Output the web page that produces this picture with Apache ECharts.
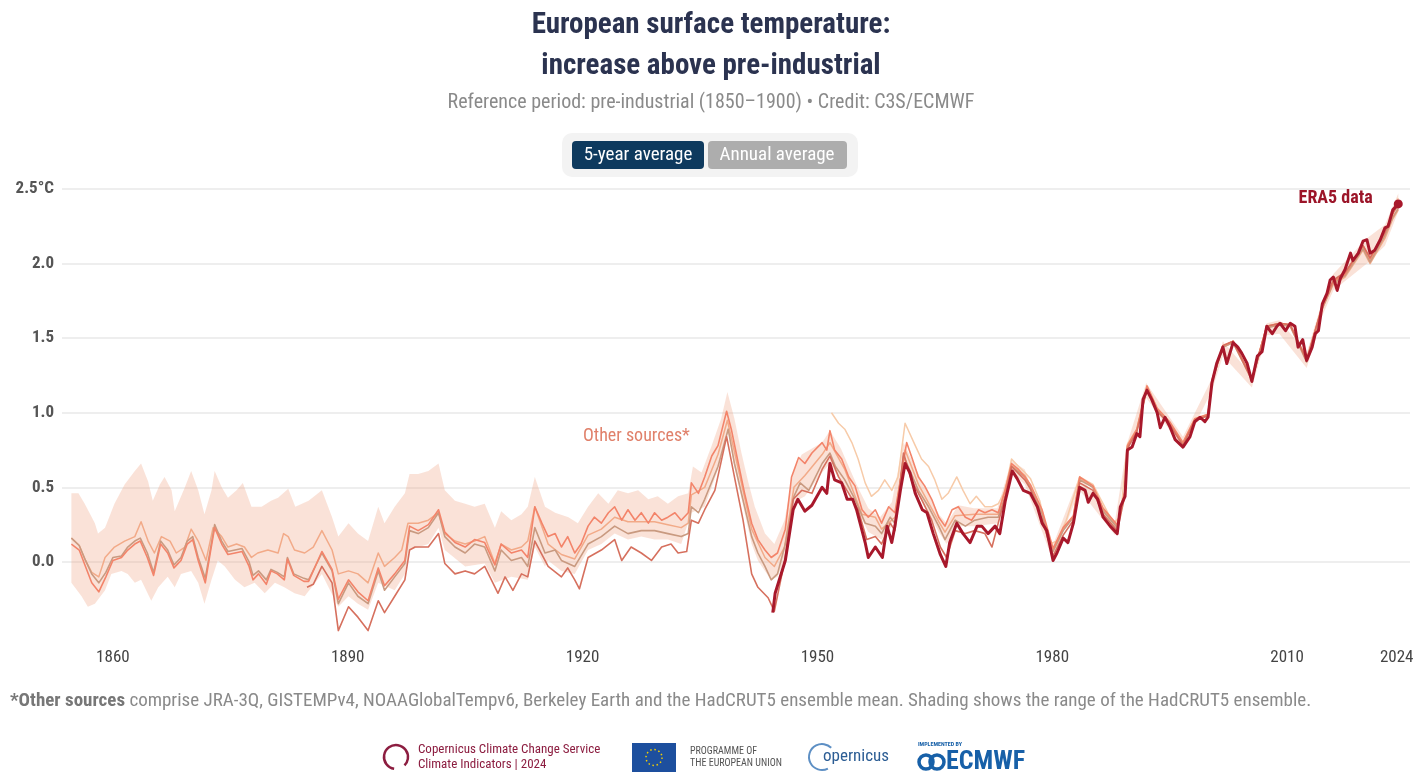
<!DOCTYPE html>
<html><head><meta charset="utf-8">
<script src="https://cdn.jsdelivr.net/npm/echarts@6/dist/echarts.min.js"></script>
<style>html,body{margin:0;padding:0;background:#fff}#c{width:1422px;height:774px}</style>
</head><body><div id="c"></div><script>
// ---------------- DATA ----------------
const xTickYears = [1860, 1890, 1920, 1950, 1980, 2010, 2024];
const yTickValues = [0, 0.5, 1, 1.5, 2, 2.5];

// ERA5 (5-year average, °C above 1850-1900)
const era5Years = [1944.3,1944.6,1945.9,1946.9,1947.5,1948.4,1949.3,1950.6,1951.2,1951.6,1952.2,1953.1,1953.8,1954.5,1955.0,1956.1,1956.5,1957.4,1958.3,1958.9,1959.5,1959.9,1960.6,1961.2,1961.8,1962.5,1963.4,1964.0,1964.8,1965.7,1966.4,1966.9,1967.8,1968.6,1969.5,1970.4,1971.0,1971.8,1972.7,1973.3,1974.0,1974.9,1975.5,1976.3,1977.2,1978.1,1978.7,1979.3,1980.1,1980.6,1981.4,1982.0,1982.7,1983.5,1984.2,1984.6,1985.2,1985.8,1986.5,1987.4,1988.3,1988.7,1989.3,1989.6,1990.2,1990.8,1991.2,1991.6,1992.1,1992.7,1993.4,1993.8,1994.4,1995.0,1995.7,1996.7,1997.6,1998.2,1998.9,1999.5,1999.9,2000.4,2001.0,2001.8,2002.3,2003.1,2003.7,2004.2,2004.9,2005.5,2006.2,2006.8,2007.4,2008.1,2008.7,2009.1,2009.8,2010.4,2011.0,2011.4,2012.0,2012.5,2013.2,2013.6,2014.0,2014.5,2015.1,2015.5,2015.9,2016.4,2016.8,2017.4,2018.1,2018.4,2019.1,2019.7,2020.2,2020.6,2021.2,2021.9,2022.5,2022.9,2023.5,2024.2];
const era5Values = [-0.34,-0.21,0.01,0.35,0.42,0.34,0.38,0.50,0.46,0.66,0.55,0.53,0.42,0.42,0.35,0.13,0.03,0.10,0.03,0.24,0.13,0.24,0.48,0.66,0.60,0.46,0.35,0.33,0.19,0.05,-0.03,0.13,0.26,0.19,0.13,0.24,0.24,0.19,0.24,0.19,0.41,0.61,0.56,0.48,0.46,0.37,0.26,0.21,0.01,0.06,0.16,0.13,0.26,0.50,0.48,0.40,0.46,0.42,0.30,0.24,0.19,0.37,0.44,0.75,0.77,0.86,0.84,1.09,1.15,1.09,1.00,0.90,0.97,0.91,0.82,0.77,0.84,0.94,0.97,0.94,0.97,1.20,1.33,1.44,1.33,1.47,1.44,1.40,1.33,1.21,1.38,1.41,1.58,1.53,1.58,1.60,1.55,1.60,1.58,1.44,1.49,1.35,1.44,1.53,1.55,1.73,1.80,1.89,1.91,1.82,1.90,1.96,2.07,2.02,2.07,2.15,2.16,2.07,2.09,2.16,2.24,2.25,2.36,2.40];

// shared reading positions after 1976 for the other sources
const lateYears = [1977.2,1978.7,1980.1,1981.4,1982.7,1983.5,1985.2,1986.5,1988.3,1989.3,1989.6,1990.8,1992.1,1993.4,1995.0,1996.7,1998.2,1999.9,2000.4,2001.8,2003.1,2005.5,2007.4,2009.1,2010.4,2012.5,2014.5,2015.9,2017.4,2019.7,2020.6,2022.5,2023.5,2024.2];

// HadCRUT5 ensemble mean (tan)
const hadYears = [1854.7,1855.7,1856.5,1857.3,1858.2,1859.1,1860.0,1861.1,1861.9,1862.8,1863.5,1864.4,1865.2,1866.1,1867.0,1867.8,1868.7,1869.5,1870.2,1870.9,1871.8,1872.5,1873.0,1873.9,1874.7,1875.6,1876.5,1877.4,1877.9,1878.6,1879.6,1880.2,1881.0,1881.9,1882.3,1883.1,1884.4,1885.0,1886.7,1888.0,1888.8,1890.1,1891.3,1892.6,1893.9,1894.7,1896.0,1897.3,1897.9,1899.0,1900.3,1901.6,1902.4,1903.7,1905.0,1906.2,1907.5,1908.8,1909.6,1910.9,1912.2,1913.0,1913.9,1915.2,1916.5,1917.3,1919.0,1920.7,1922.4,1924.1,1925.8,1927.5,1929.2,1930.9,1932.6,1933.5,1933.9,1934.8,1935.6,1937.3,1938.6,1939.4,1940.7,1941.6,1942.4,1943.3,1944.1,1944.9,1945.9,1947.0,1947.8,1948.9,1950.6,1951.6,1952.3,1953.5,1954.8,1956.1,1957.4,1958.2,1959.3,1959.9,1961.0,1961.6,1962.9,1964.2,1965.5,1966.3,1967.6,1968.9,1970.1,1971.8,1973.1,1974.0,1974.8,1976.5];
const hadValues = [0.16,0.11,0.01,-0.08,-0.14,-0.07,0.03,0.04,0.10,0.14,0.16,0.06,-0.07,0.14,0.08,-0.02,0.03,0.14,0.17,0.03,-0.11,0.10,0.25,0.14,0.07,0.08,0.09,0.00,-0.09,-0.06,-0.12,-0.05,-0.07,-0.10,0.03,-0.08,-0.11,-0.12,0.06,-0.06,-0.28,-0.14,-0.23,-0.28,-0.06,-0.19,-0.10,-0.01,0.21,0.19,0.23,0.33,0.17,0.10,0.06,0.12,0.10,-0.06,0.08,0.01,0.03,-0.03,0.23,0.06,0.08,0.01,-0.03,0.12,0.17,0.24,0.19,0.21,0.21,0.19,0.17,0.19,0.37,0.33,0.42,0.64,0.89,0.66,0.37,0.17,0.06,-0.03,-0.12,-0.08,0.12,0.44,0.53,0.48,0.66,0.73,0.64,0.55,0.42,0.26,0.24,0.19,0.30,0.26,0.71,0.64,0.48,0.37,0.24,0.15,0.28,0.24,0.28,0.30,0.30,0.44,0.64,0.57];
const hadLate = [0.50,0.32,0.07,0.21,0.30,0.55,0.50,0.34,0.23,0.47,0.77,0.88,1.17,1.02,0.93,0.79,0.95,0.98,1.21,1.44,1.47,1.22,1.57,1.59,1.58,1.34,1.70,1.87,1.92,2.10,2.01,2.19,2.31,2.37];

// NOAAGlobalTemp (bright orange)
const noaaYears = [1854.7,1855.7,1856.5,1857.3,1858.2,1859.1,1860.0,1861.1,1861.9,1862.8,1863.5,1864.4,1865.2,1866.1,1867.0,1867.8,1868.7,1869.5,1870.2,1870.9,1871.8,1872.5,1873.0,1873.9,1874.7,1875.6,1876.5,1877.4,1877.9,1878.6,1879.6,1880.2,1881.0,1881.9,1882.3,1883.1,1884.4,1885.0,1886.7,1888.0,1888.8,1890.1,1891.3,1892.6,1893.9,1894.7,1896.0,1897.3,1897.9,1899.0,1900.3,1901.6,1902.4,1903.7,1905.0,1906.2,1907.5,1908.8,1909.6,1910.9,1912.2,1913.0,1913.9,1914.8,1915.6,1916.5,1917.3,1918.1,1919.0,1919.8,1920.7,1921.5,1922.4,1923.3,1924.1,1925.0,1925.8,1926.7,1927.5,1928.4,1929.2,1930.1,1930.9,1931.8,1932.6,1933.5,1933.9,1934.8,1935.6,1936.5,1937.3,1938.4,1939.0,1939.9,1940.7,1941.6,1942.4,1943.3,1944.1,1944.9,1945.9,1946.7,1947.6,1948.4,1949.3,1950.6,1951.2,1951.6,1952.2,1953.1,1954.0,1954.8,1955.7,1956.5,1957.4,1958.2,1959.1,1959.9,1960.6,1961.4,1962.0,1962.9,1963.7,1964.6,1965.5,1966.3,1967.2,1968.0,1968.9,1969.7,1970.6,1971.4,1972.3,1973.1,1974.0,1974.8,1975.7,1976.5];
const noaaValues = [0.12,0.08,-0.03,-0.14,-0.20,-0.10,0.01,0.03,0.08,0.12,0.14,0.03,-0.09,0.12,0.06,-0.04,0.01,0.12,0.15,0.01,-0.14,0.08,0.23,0.12,0.05,0.06,0.07,-0.03,-0.12,-0.08,-0.15,-0.06,-0.08,-0.12,0.02,-0.09,-0.13,-0.13,0.07,-0.05,-0.25,-0.12,-0.20,-0.26,-0.04,-0.16,-0.08,0.01,0.24,0.21,0.25,0.35,0.20,0.13,0.10,0.15,0.13,-0.02,0.12,0.06,0.08,0.03,0.37,0.26,0.17,0.19,0.10,0.17,0.06,0.12,0.24,0.30,0.26,0.33,0.37,0.28,0.35,0.28,0.33,0.26,0.33,0.28,0.30,0.33,0.28,0.33,0.53,0.46,0.57,0.71,0.78,1.01,0.89,0.66,0.46,0.26,0.15,0.08,0.03,0.06,0.22,0.57,0.70,0.66,0.73,0.80,0.75,0.88,0.75,0.69,0.57,0.51,0.35,0.30,0.35,0.26,0.37,0.33,0.55,0.80,0.71,0.57,0.51,0.42,0.30,0.24,0.35,0.37,0.30,0.28,0.35,0.33,0.35,0.33,0.48,0.66,0.62,0.57];
const noaaLate = [0.52,0.35,0.09,0.23,0.31,0.57,0.51,0.36,0.25,0.48,0.78,0.89,1.18,1.03,0.94,0.80,0.96,0.99,1.22,1.45,1.48,1.23,1.58,1.60,1.59,1.36,1.71,1.88,1.93,2.12,2.03,2.21,2.33,2.42];

// Berkeley Earth (pale orange)
const berkYears = [1854.7,1855.7,1856.5,1857.3,1858.2,1859.0,1860.2,1861.5,1862.8,1863.6,1864.5,1865.3,1866.2,1867.3,1868.1,1869.2,1870.0,1870.9,1871.9,1872.8,1873.9,1874.7,1875.8,1876.8,1877.7,1878.5,1879.8,1881.1,1881.8,1882.4,1883.2,1884.5,1885.6,1886.7,1888.0,1888.8,1890.1,1891.3,1892.6,1893.9,1894.7,1896.0,1896.9,1897.7,1899.0,1900.3,1901.6,1902.4,1903.7,1905.0,1906.2,1907.5,1908.8,1909.6,1910.9,1912.2,1913.0,1913.9,1915.6,1917.3,1919.0,1920.7,1922.4,1924.1,1925.8,1927.5,1929.2,1930.9,1932.6,1933.5,1933.9,1935.6,1937.3,1938.5,1939.9,1941.6,1943.3,1944.5,1945.8,1947.0,1948.4,1950.6,1951.6,1953.5,1955.7,1957.4,1958.2,1959.9,1961.2,1962.9,1965.5,1966.3,1967.6,1970.1,1973.1,1974.8,1976.5];
const berkValues = [0.16,0.11,0.01,-0.07,-0.10,0.03,0.10,0.14,0.17,0.27,0.14,0.06,0.17,0.14,0.06,0.10,0.22,0.14,0.01,0.23,0.17,0.10,0.12,0.10,0.03,0.06,0.08,0.06,0.19,0.17,0.08,0.06,0.10,0.21,0.08,-0.08,-0.06,-0.08,-0.14,0.06,-0.03,0.03,0.08,0.26,0.26,0.28,0.33,0.19,0.14,0.12,0.14,0.17,-0.01,0.12,0.08,0.10,0.14,0.37,0.12,0.05,0.02,0.18,0.22,0.30,0.27,0.27,0.27,0.25,0.23,0.26,0.45,0.50,0.72,0.95,0.62,0.22,0.03,-0.03,0.10,0.50,0.58,0.72,0.80,0.62,0.32,0.30,0.22,0.30,0.75,0.52,0.27,0.20,0.31,0.32,0.32,0.65,0.58];
const berkLate = [0.51,0.33,0.08,0.22,0.30,0.56,0.50,0.35,0.24,0.47,0.77,0.88,1.17,1.02,0.93,0.79,0.95,0.98,1.21,1.44,1.47,1.22,1.57,1.59,1.58,1.35,1.70,1.86,1.91,2.09,2.00,2.17,2.30,2.36];

// GISTEMPv4 (salmon red, from 1885)
const gissYears = [1884.8,1885.6,1886.7,1888.0,1888.8,1890.1,1891.3,1892.6,1893.9,1894.7,1896.0,1897.3,1897.9,1898.6,1900.3,1901.6,1902.4,1903.7,1905.0,1906.2,1907.5,1909.2,1910.1,1911.1,1912.2,1913.0,1913.9,1915.2,1915.6,1917.3,1918.1,1919.0,1919.6,1920.7,1922.4,1924.1,1925.0,1926.2,1927.5,1928.8,1930.1,1931.3,1932.2,1933.3,1933.9,1934.8,1935.6,1936.9,1938.4,1939.4,1940.5,1941.6,1942.4,1943.7,1944.5,1945.9,1946.9,1948.0,1949.3,1950.6,1951.6,1952.7,1954.0,1955.2,1956.3,1957.4,1958.2,1959.3,1959.9,1961.0,1962.0,1963.3,1964.6,1965.7,1966.5,1967.6,1968.9,1970.1,1971.4,1972.3,1973.1,1974.0,1974.8,1976.5];
const gissValues = [-0.17,-0.15,-0.03,-0.14,-0.46,-0.30,-0.37,-0.46,-0.26,-0.34,-0.23,-0.12,0.08,0.10,0.10,0.19,-0.01,-0.08,-0.06,-0.08,-0.03,-0.21,-0.10,-0.19,-0.08,-0.10,0.14,0.01,-0.03,-0.10,-0.04,-0.12,-0.18,0.03,0.08,0.15,0.01,0.10,0.06,0.01,0.10,0.12,0.06,0.07,0.28,0.26,0.35,0.48,0.84,0.57,0.28,-0.08,-0.17,-0.24,-0.33,0.03,0.42,0.48,0.46,0.62,0.71,0.57,0.46,0.35,0.15,0.17,0.12,0.26,0.21,0.73,0.55,0.42,0.28,0.10,0.03,0.21,0.19,0.21,0.19,0.10,0.26,0.44,0.64,0.55];
const gissLate = [0.49,0.29,0.04,0.18,0.28,0.53,0.48,0.32,0.21,0.45,0.76,0.87,1.16,1.01,0.92,0.78,0.95,0.98,1.21,1.45,1.48,1.22,1.58,1.60,1.59,1.35,1.72,1.89,1.94,2.12,2.04,2.21,2.34,2.39];

// JRA-3Q (pale peach, from 1952)
const jraYears = [1951.8,1952.7,1953.5,1954.4,1955.2,1956.1,1956.9,1957.8,1958.6,1959.5,1960.3,1961.2,1962.5,1963.3,1964.2,1965.0,1965.9,1966.7,1967.8,1968.6,1969.5,1970.3,1971.4,1972.3,1973.1,1974.0,1974.8,1975.7,1976.5,1977.2,1978.4,1979.7,1980.6,1981.8,1983.5,1985.2,1986.1,1987.8,1988.7,1989.6,1990.8,1992.1,1993.4,1995.0,1996.7,1998.2,1999.9,2000.4,2001.8,2003.1,2005.5,2007.4,2009.1,2010.4,2012.5,2014.5,2015.9,2017.4,2019.7,2020.6,2022.5,2023.5,2024.2];
const jraValues = [1.00,0.93,0.89,0.80,0.69,0.53,0.44,0.48,0.55,0.48,0.57,0.93,0.78,0.69,0.64,0.55,0.42,0.46,0.57,0.48,0.39,0.44,0.37,0.37,0.39,0.48,0.69,0.64,0.60,0.56,0.41,0.12,0.14,0.28,0.57,0.52,0.43,0.26,0.30,0.79,0.89,1.18,1.03,0.93,0.80,0.96,0.99,1.22,1.45,1.48,1.23,1.58,1.60,1.59,1.35,1.72,1.88,1.93,2.11,2.02,2.20,2.35,2.44];

// HadCRUT5 ensemble range (shading)
const bandTopYears = [1854.7,1855.6,1856.4,1857.7,1858.1,1859.0,1860.2,1861.5,1862.8,1863.6,1864.5,1865.1,1866.0,1866.6,1867.5,1867.9,1869.2,1870.0,1870.9,1871.7,1872.6,1873.0,1873.9,1874.7,1875.8,1876.6,1877.7,1879.0,1880.2,1881.1,1882.4,1883.3,1885.0,1886.7,1888.0,1888.8,1890.1,1891.3,1892.6,1893.9,1894.7,1896.0,1897.3,1897.9,1899.0,1900.3,1901.6,1902.4,1903.7,1905.0,1906.2,1907.5,1908.8,1909.6,1910.9,1912.2,1913.0,1913.9,1915.2,1916.5,1918.2,1919.4,1920.7,1922.0,1923.3,1924.5,1925.8,1927.1,1928.4,1929.6,1930.9,1932.2,1933.5,1934.1,1935.2,1936.5,1937.7,1938.5,1939.4,1940.3,1941.1,1942.0,1943.3,1944.5,1945.8,1947.0,1948.0,1950.6,1951.6,1953.0,1955.0,1956.5,1958.0,1959.5,1961.0,1963.0,1965.5,1966.5,1968.0,1970.0,1973.0,1974.8,1976.5,1980.0,1983.5,1988.0,1989.6,1992.0,1996.7,2000.4,2001.8,2005.5,2007.4,2009.0,2012.5,2014.5,2015.9,2020.2,2022.5,2024.2];
const bandTop = [0.46,0.46,0.39,0.26,0.19,0.23,0.39,0.52,0.61,0.66,0.54,0.41,0.52,0.57,0.48,0.34,0.50,0.61,0.48,0.32,0.48,0.61,0.50,0.43,0.48,0.53,0.37,0.37,0.41,0.43,0.49,0.37,0.41,0.48,0.30,0.17,0.26,0.19,0.14,0.37,0.26,0.37,0.46,0.59,0.59,0.61,0.66,0.48,0.41,0.39,0.37,0.39,0.23,0.34,0.28,0.32,0.37,0.57,0.37,0.33,0.30,0.26,0.37,0.46,0.39,0.48,0.46,0.48,0.42,0.44,0.39,0.44,0.46,0.64,0.60,0.78,0.96,1.14,0.96,0.73,0.55,0.37,0.19,0.12,0.28,0.62,0.72,0.80,0.88,0.76,0.52,0.36,0.30,0.40,0.80,0.58,0.32,0.26,0.38,0.36,0.36,0.68,0.62,0.10,0.58,0.27,0.80,1.20,0.84,1.23,1.48,1.25,1.60,1.62,1.40,1.75,1.93,2.17,2.26,2.47];
const bandBottomYears = [1854.7,1856.0,1856.8,1857.7,1859.0,1859.8,1861.1,1861.9,1862.8,1863.6,1864.9,1865.8,1867.0,1867.9,1868.7,1870.0,1870.9,1871.7,1872.6,1873.4,1874.3,1875.6,1876.8,1878.1,1879.4,1880.7,1881.9,1883.2,1884.5,1886.7,1888.8,1890.1,1891.3,1892.6,1893.9,1896.0,1897.3,1897.9,1900.3,1901.6,1902.4,1905.0,1907.5,1908.8,1910.9,1913.0,1913.9,1915.2,1915.6,1917.3,1919.0,1920.7,1922.4,1924.1,1925.8,1927.5,1929.2,1930.9,1932.6,1933.9,1935.6,1937.3,1938.6,1939.4,1940.7,1941.6,1942.4,1943.3,1944.1,1944.9,1945.8,1947.0,1948.4,1950.6,1951.6,1953.5,1955.0,1956.5,1958.2,1959.5,1961.0,1963.0,1965.5,1966.5,1968.0,1970.0,1973.1,1974.8,1976.5,1980.0,1983.5,1988.0,1989.6,1992.0,1996.7,2000.4,2001.8,2005.5,2007.4,2009.0,2012.5,2014.5,2015.9,2020.2,2022.5,2024.2];
const bandBottom = [-0.14,-0.23,-0.30,-0.28,-0.19,-0.08,-0.06,-0.08,-0.14,-0.12,-0.26,-0.17,-0.10,-0.17,-0.08,-0.06,-0.14,-0.28,-0.12,0.01,-0.03,-0.12,-0.17,-0.14,-0.21,-0.14,-0.17,-0.21,-0.23,-0.08,-0.30,-0.23,-0.28,-0.32,-0.14,-0.19,-0.08,0.08,0.12,0.23,0.08,-0.03,-0.01,-0.14,-0.10,-0.12,0.10,-0.03,0.01,-0.06,-0.08,0.08,0.12,0.19,0.15,0.17,0.15,0.15,0.12,0.33,0.37,0.62,0.87,0.64,0.33,0.12,0.01,-0.06,-0.12,-0.10,0.01,0.40,0.44,0.60,0.66,0.50,0.36,0.20,0.15,0.24,0.66,0.44,0.20,0.12,0.24,0.24,0.26,0.60,0.52,0.02,0.48,0.18,0.72,1.10,0.76,1.15,1.38,1.17,1.52,1.53,1.30,1.65,1.82,2.00,2.12,2.35];

// ---------------- CHART ----------------
const COND = '"Roboto Condensed","Liberation Sans Narrow","DejaVu Sans Condensed",Roboto,sans-serif';
const ERA5_COLOR = '#a8182b';

function pairs(xs, ys) { return xs.map((x, i) => [x, ys[i]]); }
function withLate(xs, ys, late) { return pairs(xs, ys).concat(pairs(lateYears, late)); }

function lineSeries(name, data, color, width, z) {
  return { name, type: 'line', data, showSymbol: false, symbol: 'none', z,
    lineStyle: { color, width, join: 'round' }, silent: true, animation: false };
}

const chart = echarts.init(document.getElementById('c'), null, { renderer: 'canvas' });

const option = {
  backgroundColor: '#ffffff',
  animation: false,
  title: {
    text: 'European surface temperature:\nincrease above pre-industrial',
    left: 'center', top: 0,
    textStyle: { fontFamily: COND, fontSize: 29, fontWeight: 'bold', color: '#2b3350', lineHeight: 41 }
  },
  grid: { left: 62, right: 12, top: 189, bottom: 130, containLabel: false },
  xAxis: {
    type: 'value', min: 1853.5, max: 2025.7,
    axisLine: { show: false },
    axisTick: { show: false, customValues: xTickYears },
    splitLine: { show: false },
    axisLabel: { customValues: xTickYears, formatter: v => String(v), color: '#444',
      fontFamily: COND, fontSize: 17, margin: 5 }
  },
  yAxis: {
    type: 'value', min: -0.55, max: 2.5,
    axisLine: { show: false },
    axisTick: { show: false, customValues: yTickValues },
    splitLine: { show: true, lineStyle: { color: '#e8e8e8', width: 1.5 } },
    axisLabel: { customValues: yTickValues, color: '#555', fontFamily: COND, fontSize: 17, fontWeight: 'bold', margin: 8,
      formatter: v => (v === 2.5 ? '2.5°C' : v.toFixed(1)) }
  },
  series: [
    {
      name: 'HadCRUT5 ensemble range', type: 'custom', z: 1, silent: true,
      data: [[bandTopYears[0], bandTop[0]]],
      encode: { x: 0, y: 1 },
      renderItem: function (params, api) {
        const pts = [];
        for (let i = 0; i < bandTopYears.length; i++) pts.push(api.coord([bandTopYears[i], bandTop[i]]));
        for (let i = bandBottomYears.length - 1; i >= 0; i--) pts.push(api.coord([bandBottomYears[i], bandBottom[i]]));
        return { type: 'polygon', shape: { points: pts }, style: { fill: 'rgba(240,160,125,0.30)' } };
      }
    },
    lineSeries('JRA-3Q', pairs(jraYears, jraValues), '#f7cba9', 1.5, 2),
    lineSeries('Berkeley Earth', withLate(berkYears, berkValues, berkLate), '#f2aa88', 1.5, 3),
    lineSeries('HadCRUT5', withLate(hadYears, hadValues, hadLate), '#c99a80', 1.6, 4),
    lineSeries('NOAAGlobalTemp', withLate(noaaYears, noaaValues, noaaLate), '#f3846a', 1.6, 5),
    lineSeries('GISTEMP', withLate(gissYears, gissValues, gissLate), '#d6705e', 1.6, 6),
    lineSeries('ERA5', pairs(era5Years, era5Values), ERA5_COLOR, 3, 10),
    {
      name: 'ERA5 latest', type: 'scatter', z: 11, silent: true,
      data: [[era5Years[era5Years.length - 1], era5Values[era5Values.length - 1]]],
      symbolSize: 9, itemStyle: { color: ERA5_COLOR, opacity: 1 },
      label: { show: true, formatter: 'ERA5 data', position: 'left', distance: 21, offset: [0, -5],
        color: '#9c1529', opacity: 1, textBorderWidth: 0, fontFamily: COND, fontSize: 18, fontWeight: 'bold' }
    }
  ],
  graphic: [
    { type: 'text', left: 'center', top: 93, style: {
      text: 'Reference period: pre-industrial (1850\u20131900) \u2022 Credit: C3S/ECMWF',
      fill: '#8a8a8a', font: '20px ' + COND } },
    // toggle buttons
    { type: 'rect', shape: { x: 562, y: 133, width: 296, height: 44, r: 10 }, style: { fill: '#f3f3f3' } },
    { type: 'rect', shape: { x: 572, y: 141, width: 132, height: 28, r: 4 }, style: { fill: '#0e3a5e' } },
    { type: 'text', x: 638, y: 155, style: { text: '5-year average', fill: '#ffffff', font: '19px ' + COND, align: 'center', verticalAlign: 'middle' } },
    { type: 'rect', shape: { x: 708, y: 141, width: 139, height: 28, r: 4 }, style: { fill: '#adadad' } },
    { type: 'text', x: 777, y: 155, style: { text: 'Annual average', fill: '#ffffff', font: '19px ' + COND, align: 'center', verticalAlign: 'middle' } },
    // annotation
    { type: 'text', x: 583, y: 436, z: 20, style: { text: 'Other sources*', fill: '#e0806a', font: '18px ' + COND, verticalAlign: 'middle' } },
    // footnote
    { type: 'text', x: 10, y: 701, style: {
      text: '{b|*Other sources}{n| comprise JRA-3Q, GISTEMPv4, NOAAGlobalTempv6, Berkeley Earth and the HadCRUT5 ensemble mean. Shading shows the range of the HadCRUT5 ensemble.}',
      verticalAlign: 'middle',
      rich: {
        b: { fontWeight: 'bold', fill: '#777777', fontSize: 19, fontFamily: COND },
        n: { fontWeight: 'normal', fill: '#8a8a8a', fontSize: 19, fontFamily: COND }
      } } },
    // logos (approximate)
    { type: 'arc', shape: { cx: 396, cy: 757, r: 12, startAngle: Math.PI * 0.55, endAngle: Math.PI * 2.25 }, style: { stroke: '#8c1d40', lineWidth: 2.5, fill: 'none' } },
    { type: 'text', x: 418, y: 750, style: { text: 'Copernicus Climate Change Service', fill: '#8c1d40', font: '13px ' + COND, verticalAlign: 'middle' } },
    { type: 'text', x: 418, y: 765, style: { text: 'Climate Indicators | 2024', fill: '#8c1d40', font: '13px ' + COND, verticalAlign: 'middle' } },
    { type: 'rect', shape: { x: 632, y: 743, width: 44, height: 29 }, style: { fill: '#1d4f9e' } },
    { type: 'circle', shape: { cx: 654, cy: 757.5, r: 8 }, style: { fill: 'none', stroke: '#f5d000', lineWidth: 1.5, lineDash: [1.5, 2.7] } },
    { type: 'text', x: 690, y: 751, style: { text: 'PROGRAMME OF', fill: '#555', font: '10px ' + COND, verticalAlign: 'middle' } },
    { type: 'text', x: 690, y: 763, style: { text: 'THE EUROPEAN UNION', fill: '#555', font: '10px ' + COND, verticalAlign: 'middle' } },
    { type: 'arc', shape: { cx: 822, cy: 757, r: 13, startAngle: Math.PI * 0.35, endAngle: Math.PI * 1.75 }, style: { stroke: '#5d8fc4', lineWidth: 2, fill: 'none' } },
    { type: 'text', x: 823, y: 757, style: { text: 'opernicus', fill: '#2c5d94', font: '17px ' + COND, verticalAlign: 'middle' } },
    { type: 'text', x: 918, y: 744, style: { text: 'IMPLEMENTED BY', fill: '#1760a8', font: 'bold 6px ' + COND, verticalAlign: 'middle' } },
    { type: 'circle', shape: { cx: 926, cy: 762, r: 7 }, style: { fill: 'none', stroke: '#1760a8', lineWidth: 3.5 } },
    { type: 'circle', shape: { cx: 937, cy: 762, r: 7 }, style: { fill: 'none', stroke: '#1760a8', lineWidth: 3.5 } },
    { type: 'text', x: 946, y: 762, style: { text: 'ECMWF', fill: '#1760a8', font: 'bold 26px ' + COND, verticalAlign: 'middle' } }
  ]
};
chart.setOption(option);
</script></body></html>
